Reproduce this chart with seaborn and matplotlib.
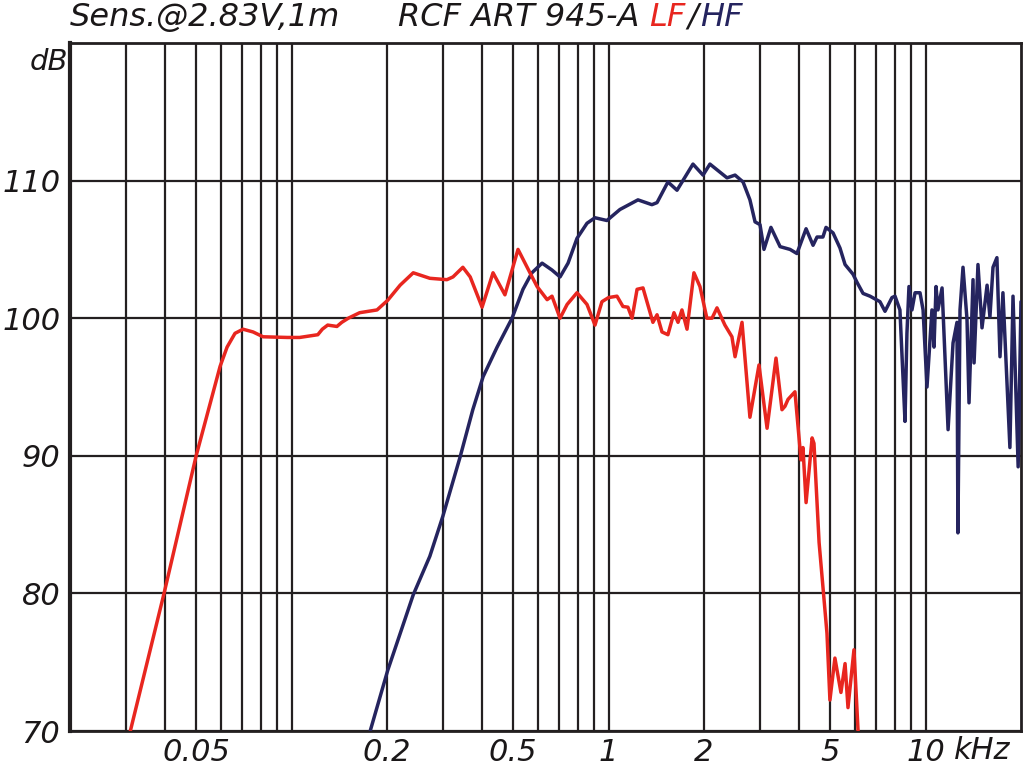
import numpy as np
import pandas as pd
import matplotlib
matplotlib.use("Agg")
import matplotlib.pyplot as plt
import seaborn as sns

# ---------------- data (frequency in Hz, level in dB) ----------------
lf_freq = [31, 39.6, 50, 59.5, 62.6, 66.3, 70.3, 75.6, 81.3, 97, 106, 121, 125, 130,
           139, 144, 151, 164, 186, 201, 220, 242, 273, 309, 323, 347, 366, 399, 432,
           471, 518, 565, 595, 640, 663, 703, 740, 795, 855, 906, 953, 1000, 1063,
           1110, 1151, 1186, 1230, 1284, 1380, 1422, 1474, 1539, 1608, 1656, 1704,
           1768, 1859, 1942, 2042, 2120, 2198, 2328, 2450, 2506, 2636, 2792, 2982,
           3162, 3374, 3524, 3602, 3682, 3872, 4046, 4104, 4198, 4386, 4446, 4614,
           4886, 4992, 5176, 5408, 5572, 5692, 5944, 6124]
lf_db = [70.0, 80.0, 90.0, 96.5, 97.9, 98.9, 99.2, 99.0, 98.65, 98.6, 98.6, 98.8, 99.2,
         99.5, 99.4, 99.7, 100.0, 100.4, 100.6, 101.3, 102.4, 103.3, 102.9, 102.8,
         103.0, 103.7, 103.0, 100.8, 103.3, 101.7, 105.0, 103.3, 102.3, 101.35, 101.6,
         100.0, 101.0, 101.85, 101.0, 99.5, 101.2, 101.5, 101.6, 100.85, 100.8, 100.0,
         102.1, 102.2, 99.7, 100.25, 99.0, 98.8, 100.4, 99.7, 100.6, 99.2, 103.3,
         102.3, 100.0, 100.0, 100.75, 99.5, 98.65, 97.2, 99.7, 92.8, 96.6, 92.0, 97.1,
         93.35, 93.6, 94.1, 94.65, 89.7, 90.6, 86.6, 91.3, 90.9, 83.7, 77.1, 72.25,
         75.3, 72.8, 74.9, 71.7, 75.9, 70.0]

hf_freq = [177, 201, 242, 273, 300, 340, 373, 402, 445, 496, 537, 573, 617, 663, 703,
           745, 795, 855, 906, 988, 1086, 1238, 1370, 1422, 1539, 1644, 1846, 1986,
           2088, 2364, 2506, 2656, 2792, 2898, 3004, 3092, 3252, 3476, 3736, 3928,
           4198, 4416, 4546, 4744, 4852, 5106, 5370, 5572, 5902, 6080, 6350, 6680,
           7180, 7448, 7834, 8010, 8300, 8550, 8612, 8734, 8864, 9058, 9264, 9604,
           9820, 10104, 10472, 10632, 10790, 10940, 11272, 11776, 12208, 12562, 12648,
           12842, 13124, 13512, 13710, 14116, 14222, 14632, 15068, 15632, 15960, 16320,
           16790, 17170, 17540, 18452, 18872, 19590, 20000]
hf_db = [70.0, 74.4, 79.9, 82.7, 85.6, 89.9, 93.35, 95.75, 97.9, 100.0, 102.1, 103.3,
         104.0, 103.5, 103.0, 104.0, 105.8, 106.9, 107.3, 107.1, 107.9, 108.6, 108.25,
         108.4, 109.9, 109.3, 111.2, 110.4, 111.2, 110.2, 110.4, 109.9, 108.6, 107.0,
         106.8, 105.0, 106.6, 105.2, 105.0, 104.7, 106.5, 105.3, 105.9, 105.9, 106.6,
         106.2, 105.1, 103.9, 103.2, 102.6, 101.8, 101.6, 101.2, 100.5, 101.5, 101.6,
         100.6, 94.1, 92.5, 98.9, 102.3, 100.6, 101.85, 101.85, 100.6, 95.0, 100.6,
         97.9, 102.3, 100.6, 102.2, 91.9, 98.2, 99.7, 84.4, 100.6, 103.7, 99.9, 93.85,
         102.8, 96.75, 103.9, 99.3, 102.4, 100.1, 103.7, 104.4, 97.2, 101.85, 90.6,
         101.6, 89.2, 101.2]

x_major = [50, 200, 500, 1000, 2000, 5000, 10000]
x_major_labels = ["0.05", "0.2", "0.5", "1", "2", "5", "10"]
x_grid_minor = [30, 40, 60, 70, 80, 90, 100, 300, 400, 600, 700, 800, 900,
                3000, 4000, 6000, 7000, 8000, 9000]
y_major = [70, 80, 90, 100, 110]
y_major_labels = ["70", "80", "90", "100", "110"]

LF_COLOR = "#e8261f"
HF_COLOR = "#25245f"
GRID = "#231f20"
TEXT = "#1a1718"

lf = pd.DataFrame({"f": lf_freq, "dB": lf_db})
hf = pd.DataFrame({"f": hf_freq, "dB": hf_db})

# ---------------- figure ----------------
sns.set_theme(style="white")
plt.rcParams["font.family"] = ["DejaVu Sans"]

fig = plt.figure(figsize=(10.24, 7.67), dpi=100)
ax = fig.add_axes([70 / 1024, 1 - 731 / 767, (1021 - 70) / 1024, (731 - 43) / 767])
ax.set_xscale("log")

sns.lineplot(data=lf, x="f", y="dB", ax=ax, color=LF_COLOR, lw=2.5,
             sort=False, estimator=None, legend=False, zorder=4)
sns.lineplot(data=hf, x="f", y="dB", ax=ax, color=HF_COLOR, lw=2.5,
             sort=False, estimator=None, legend=False, zorder=3)

ax.set_xlim(20, 20000)
ax.set_ylim(70, 120)

ax.set_xticks(x_major)
ax.set_xticklabels(x_major_labels)
ax.set_xticks(x_grid_minor, minor=True)
ax.xaxis.set_minor_formatter(matplotlib.ticker.NullFormatter())
ax.set_yticks(y_major)
ax.set_yticklabels(y_major_labels)

ax.grid(True, which="both", axis="x", color=GRID, lw=1.6)
ax.grid(True, which="major", axis="y", color=GRID, lw=1.6)
ax.set_axisbelow(True)

ax.tick_params(axis="both", which="both", length=0, labelsize=22,
               labelcolor=TEXT)
ax.tick_params(axis="x", pad=5)
ax.tick_params(axis="y", pad=7)
for lab in ax.get_xticklabels() + ax.get_yticklabels():
    lab.set_style("italic")

ax.set_xlabel("")
ax.set_ylabel("")

for side, s in ax.spines.items():
    s.set_color(GRID)
    s.set_linewidth(2.0)
    s.set_visible(True)
ax.spines["left"].set_linewidth(3.0)

# unit labels
ax.annotate("kHz", xy=(10000, 0), xycoords=("data", "axes fraction"),
            xytext=(28, -5), textcoords="offset pixels", ha="left", va="top",
            fontsize=22, style="italic", color=TEXT)
fig.text(68 / 1024, 1 - 62 / 767, "dB", ha="right", va="center",
         fontsize=21, style="italic", color=TEXT)

# title with coloured parts
fig.canvas.draw()
renderer = fig.canvas.get_renderer()
title_y = 1 - 17 / 767
fig.text(70 / 1024, title_y, "Sens.@2.83V,1m", ha="left", va="center",
         fontsize=23, style="italic", color=TEXT)
x0 = 398 / 1024
pieces = [("RCF ART 945-A", TEXT, 10), ("LF", LF_COLOR, 2), ("/", TEXT, 2),
          ("HF", HF_COLOR, 0)]
for txt, col, gap in pieces:
    t = fig.text(x0, title_y, txt, ha="left", va="center", fontsize=23,
                 style="italic", color=col)
    bb = t.get_window_extent(renderer=renderer)
    x0 = (bb.x1 + gap) / fig.bbox.width

fig.savefig("out.png", dpi=100)
